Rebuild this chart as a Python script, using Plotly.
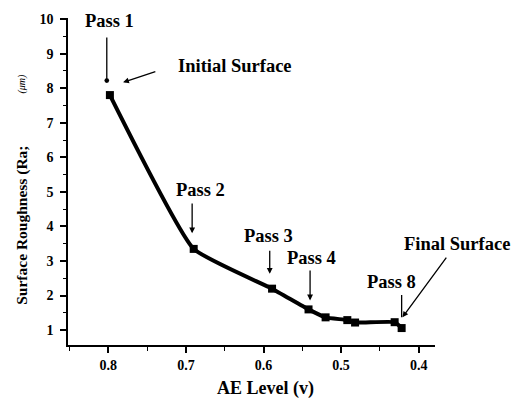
import plotly.graph_objects as go

# Data
ae_level = [0.798, 0.690, 0.589, 0.542, 0.520, 0.492, 0.482, 0.431, 0.422]
roughness = [7.80, 3.35, 2.20, 1.60, 1.37, 1.29, 1.22, 1.23, 1.06]

x_ticks = [0.8, 0.7, 0.6, 0.5, 0.4]
y_ticks = [1, 2, 3, 4, 5, 6, 7, 8, 9, 10]

FONT = "Liberation Serif"

fig = go.Figure()
fig.add_trace(go.Scatter(
    x=ae_level, y=roughness, mode="lines+markers",
    line=dict(color="black", width=4, shape="spline", smoothing=0.4),
    marker=dict(symbol="square", size=8, color="black"),
    showlegend=False, cliponaxis=False,
))

# labels placed in paper coordinates: (text, x, y)
texts = [
    ("Pass 1", 0.112, 0.991),
    ("Initial Surface", 0.455, 0.852),
    ("Pass 2", 0.360, 0.474),
    ("Pass 3", 0.546, 0.332),
    ("Pass 4", 0.663, 0.266),
    ("Final Surface", 1.060, 0.308),
    ("Pass 8", 0.881, 0.193),
]
for txt, tx, ty in texts:
    fig.add_annotation(x=tx, y=ty, xref="paper", yref="paper", xanchor="center", yanchor="middle",
                       text="<b>%s</b>" % txt,
                       showarrow=False, font=dict(family=FONT, size=18.5, color="black"))

# arrows in data coordinates: (tail_x, tail_y, head_x, head_y, head)
arrows = [
    (0.802, 9.51, 0.802, 8.22, 6),
    (0.7375, 8.49, 0.781, 8.17, 2),
    (0.692, 4.71, 0.692, 3.80, 2),
    (0.592, 3.34, 0.592, 2.63, 2),
    (0.540, 2.77, 0.540, 1.86, 2),
    (0.422, 2.06, 0.422, 1.37, 0),
    (0.363, 3.14, 0.421, 1.37, 2),
]
for ax, ay, hx, hy, head in arrows:
    fig.add_annotation(x=hx, y=hy, ax=ax, ay=ay, xref="x", yref="y",
                       axref="x", ayref="y", text="", showarrow=True,
                       arrowhead=head, arrowsize=0.9, arrowwidth=1.3,
                       arrowcolor="black", standoff=0, startstandoff=0)

fig.add_annotation(x=-0.125, y=0.365, xref="paper", yref="paper",
                   xanchor="center", yanchor="middle",
                   text="<b>Surface Roughness (Ra;</b>", textangle=-90,
                   showarrow=False, font=dict(family=FONT, size=15.5, color="black"))
fig.add_annotation(x=-0.125, y=0.80, xref="paper", yref="paper",
                   xanchor="center", yanchor="middle",
                   text="<i>(μm)</i>", textangle=-90,
                   showarrow=False, font=dict(family=FONT, size=10, color="black"))
fig.add_annotation(x=0.537, y=-0.133, xref="paper", yref="paper",
                   xanchor="center", yanchor="middle",
                   text="<b>AE Level (v)</b>",
                   showarrow=False, font=dict(family=FONT, size=18, color="black"))

fig.update_xaxes(
    range=[0.852, 0.379], tickvals=x_ticks, ticktext=["<b>%.1f</b>" % v for v in x_ticks],
    showline=True, linecolor="black", linewidth=1.5, showgrid=False, zeroline=False,
    ticks="outside", ticklen=6, tickwidth=1.5, tickcolor="black",
    minor=dict(dtick=0.05, ticks="outside", ticklen=4, tickwidth=1.2, tickcolor="black", showgrid=False),
    tickfont=dict(family=FONT, size=14, color="black"),
)
fig.update_yaxes(
    range=[0.57, 10.03], tickvals=y_ticks, ticktext=["<b>%d</b>" % v for v in y_ticks],
    showline=True, linecolor="black", linewidth=1.5, showgrid=False, zeroline=False,
    ticks="outside", ticklen=6, tickwidth=1.5, tickcolor="black",
    minor=dict(dtick=0.5, ticks="outside", ticklen=3, tickwidth=1.2, tickcolor="black", showgrid=False),
    tickfont=dict(family=FONT, size=14, color="black"), ticklabelstandoff=4,
)

fig.update_layout(
    width=526, height=398,
    margin=dict(l=68, r=91, t=14, b=53),
    paper_bgcolor="white", plot_bgcolor="white",
)

fig.write_html("out.html")
